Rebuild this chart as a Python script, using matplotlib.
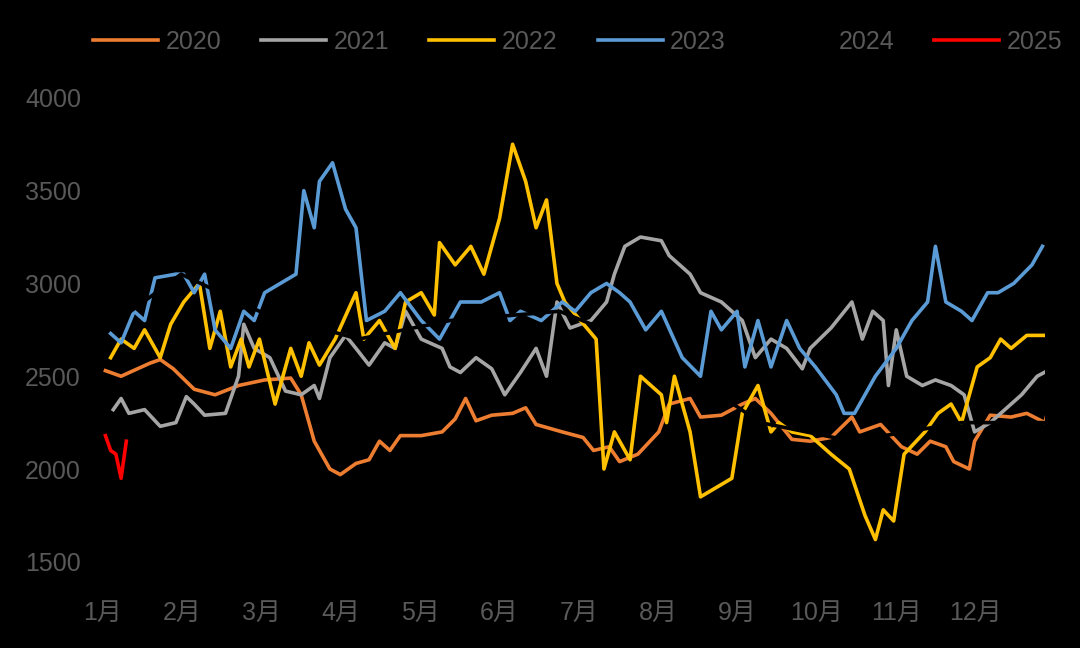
import matplotlib.pyplot as plt
import numpy as np

plt.rcParams['font.family'] = ['Liberation Sans', 'Noto Sans CJK SC', 'DejaVu Sans']

months = ["1月", "2月", "3月", "4月", "5月", "6月", "7月", "8月", "9月", "10月", "11月", "12月"]

# day-of-year readings (x) and price (y) per year
x2020 = [1, 7, 18, 22, 27, 35, 43, 52, 62, 72, 76, 81, 87, 91, 97, 102, 106, 110, 114, 122, 130, 135, 139, 143, 149, 157, 162, 166, 176, 184, 188, 194, 198, 205, 213, 217, 225, 229, 237, 245, 250, 256, 264, 271, 279, 287, 290, 298, 306, 312, 317, 323, 326, 332, 334, 340, 348, 354, 361, 362]
y2020 = [2530, 2500, 2570, 2590, 2540, 2430, 2400, 2450, 2480, 2490, 2400, 2150, 2000, 1970, 2030, 2050, 2150, 2100, 2180, 2180, 2200, 2270, 2380, 2260, 2290, 2300, 2330, 2240, 2200, 2170, 2100, 2120, 2040, 2080, 2200, 2350, 2380, 2280, 2290, 2350, 2380, 2300, 2160, 2150, 2170, 2280, 2200, 2240, 2120, 2080, 2150, 2120, 2040, 2000, 2150, 2290, 2280, 2300, 2250, 2310]
x2021 = [4, 7, 10, 16, 22, 28, 32, 35, 39, 47, 52, 54, 58, 64, 70, 76, 81, 83, 87, 93, 97, 102, 108, 112, 116, 122, 130, 133, 137, 143, 149, 154, 160, 166, 170, 174, 179, 187, 193, 196, 200, 206, 214, 217, 225, 229, 237, 245, 250, 256, 262, 268, 271, 279, 287, 291, 295, 299, 301, 304, 308, 314, 319, 325, 330, 334, 340, 348, 352, 358, 362]
y2021 = [2320, 2380, 2300, 2320, 2230, 2250, 2390, 2350, 2290, 2300, 2500, 2780, 2650, 2600, 2420, 2400, 2450, 2380, 2600, 2720, 2650, 2560, 2680, 2650, 2850, 2700, 2650, 2550, 2520, 2600, 2540, 2400, 2520, 2650, 2500, 2900, 2760, 2800, 2900, 3050, 3200, 3250, 3230, 3150, 3050, 2950, 2900, 2800, 2600, 2700, 2650, 2540, 2650, 2760, 2900, 2700, 2850, 2800, 2450, 2750, 2500, 2450, 2480, 2450, 2400, 2200, 2250, 2350, 2400, 2500, 2530]
x2022 = [3, 7, 12, 16, 22, 26, 31, 37, 41, 45, 49, 53, 56, 60, 66, 72, 76, 79, 83, 89, 97, 100, 106, 112, 116, 122, 127, 129, 135, 141, 146, 152, 157, 162, 166, 170, 174, 177, 183, 189, 192, 196, 202, 206, 214, 216, 219, 225, 229, 235, 241, 245, 251, 256, 259, 264, 271, 279, 286, 292, 296, 299, 303, 307, 315, 320, 325, 329, 335, 340, 344, 348, 354, 360, 362]
y2022 = [2600, 2700, 2650, 2750, 2600, 2780, 2900, 3000, 2650, 2850, 2550, 2700, 2550, 2700, 2350, 2650, 2500, 2680, 2560, 2700, 2950, 2700, 2800, 2650, 2900, 2950, 2830, 3220, 3100, 3200, 3050, 3350, 3750, 3550, 3300, 3450, 3000, 2900, 2800, 2700, 2000, 2200, 2050, 2500, 2400, 2250, 2500, 2200, 1850, 1900, 1950, 2300, 2450, 2200, 2250, 2200, 2180, 2080, 2000, 1750, 1620, 1780, 1720, 2080, 2200, 2300, 2350, 2250, 2550, 2600, 2700, 2650, 2720, 2720, 2720]
x2023 = [3, 7, 12, 16, 20, 28, 31, 35, 39, 43, 49, 54, 58, 62, 68, 74, 77, 81, 83, 88, 93, 97, 101, 108, 114, 122, 129, 137, 145, 152, 156, 160, 168, 176, 181, 187, 193, 198, 202, 208, 214, 222, 229, 233, 237, 243, 246, 251, 256, 262, 267, 273, 281, 284, 288, 296, 304, 310, 316, 319, 323, 329, 333, 339, 343, 349, 356, 360]
y2023 = [2730, 2680, 2850, 2800, 3030, 3050, 3050, 2950, 3050, 2750, 2650, 2850, 2800, 2950, 3000, 3050, 3500, 3300, 3550, 3650, 3400, 3300, 2800, 2850, 2950, 2800, 2700, 2900, 2900, 2950, 2800, 2850, 2800, 2900, 2850, 2950, 3000, 2950, 2900, 2750, 2850, 2600, 2500, 2850, 2750, 2850, 2550, 2800, 2550, 2800, 2650, 2550, 2400, 2300, 2300, 2500, 2650, 2800, 2900, 3200, 2900, 2850, 2800, 2950, 2950, 3000, 3100, 3200]
x2024 = [1, 30, 60, 98, 133, 175, 210, 252, 287, 329, 362]
y2024 = [2750, 3050, 2850, 2700, 2800, 2850, 2650, 2250, 2150, 2250, 2250]
x2025 = [1, 3, 5, 7, 9]
y2025 = [2180, 2100, 2080, 1950, 2150]

series = [
    ("2020", x2020, y2020, "#ED7D31"),
    ("2021", x2021, y2021, "#A5A5A5"),
    ("2022", x2022, y2022, "#FFC000"),
    ("2023", x2023, y2023, "#5B9BD5"),
    ("2024", x2024, y2024, "#000000"),
    ("2025", x2025, y2025, "#FF0000"),
]

fig = plt.figure(figsize=(10.8, 6.48), dpi=100, facecolor="black")
ax = fig.add_axes([0.093, 0.133, 0.875, 0.716], facecolor="black")
for name, x, y, c in series:
    ax.plot(np.array(x) / 30.4 + 1, y, color=c, lw=2.6, label=name)

ax.set_ylim(1500, 4000)
ax.set_xlim(0.97, 12.88)
ax.set_yticks([1500, 2000, 2500, 3000, 3500, 4000])
ax.set_xticks(range(1, 13))
ax.set_xticklabels(months)
ax.tick_params(colors="#595959", labelsize=18, length=0)
ax.tick_params(axis="x", pad=28)
ax.tick_params(axis="y", pad=14)
for s in ax.spines.values():
    s.set_visible(False)
leg = ax.legend(loc="center", bbox_to_anchor=(0.505, 1.12), ncol=6, frameon=False,
                fontsize=18, labelcolor="#595959", handlelength=2.6, columnspacing=1.6,
                handletextpad=0.3)
fig.savefig("out.png", facecolor="black")
